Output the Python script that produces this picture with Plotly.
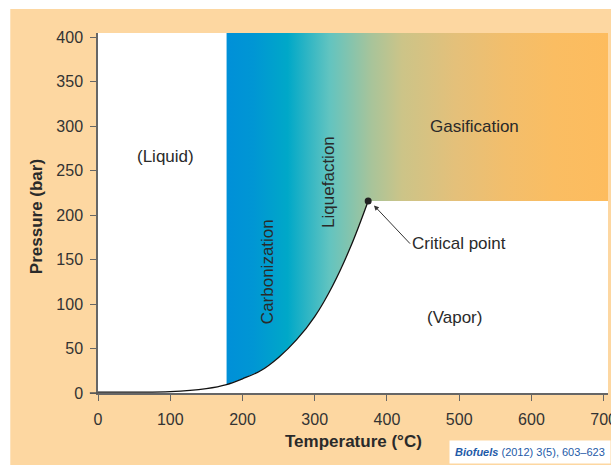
import plotly.graph_objects as go

# Vapor-pressure curve of water
temp_curve = [0, 50, 100, 150, 178, 200, 225, 250, 275, 300, 325, 350, 374]
pres_curve = [1, 1, 1.5, 5, 9.5, 16, 25, 40, 60, 86, 121, 165, 216]

crit_T, crit_P = 374, 216
carb_start = 178
x_max, y_max = 706, 405

x_ticks = [0, 100, 200, 300, 400, 500, 600, 700]
y_ticks = [0, 50, 100, 150, 200, 250, 300, 350, 400]

grad_colors = [
    [0.0, "#0090D8"], [0.07, "#0096D4"], [0.16, "#00A8C8"], [0.27, "#62C4C0"],
    [0.38, "#A8C49A"], [0.46, "#CCC488"], [0.60, "#E4C07A"], [0.73, "#F2BE6C"],
    [0.86, "#FABD62"], [1.0, "#FDBC5E"],
]

poly_x = [t for t in temp_curve if t >= carb_start] + [x_max, x_max, carb_start, carb_start]
poly_y = [p for t, p in zip(temp_curve, pres_curve) if t >= carb_start] + [crit_P, y_max, y_max, pres_curve[temp_curve.index(carb_start)]]

fig = go.Figure()
fig.add_trace(go.Scatter(
    x=poly_x, y=poly_y, mode="lines", fill="toself", line=dict(width=0),
    fillgradient=dict(type="horizontal", colorscale=grad_colors, start=carb_start, stop=x_max),
    hoverinfo="skip", showlegend=False,
))
fig.add_trace(go.Scatter(
    x=temp_curve, y=pres_curve, mode="lines", line=dict(color="#111", width=1.3, shape="spline"),
    showlegend=False, hoverinfo="skip",
))
fig.add_trace(go.Scatter(
    x=[crit_T], y=[crit_P], mode="markers", marker=dict(color="#222", size=7),
    showlegend=False, hoverinfo="skip",
))

lab_font = dict(family="Liberation Sans, Arial", size=17, color="#2a2a2a")
anns = [
    dict(x=93, y=266, text="(Liquid)"),
    dict(x=521, y=300, text="Gasification"),
    dict(x=234, y=136, text="Carbonization", textangle=-90),
    dict(x=319, y=238, text="Liquefaction", textangle=-90),
    dict(x=493, y=85, text="(Vapor)"),
]
for a in anns:
    fig.add_annotation(xref="x", yref="y", showarrow=False, font=lab_font, **a)

fig.add_annotation(
    x=382, y=211, xref="x", yref="y", text="Critical point", showarrow=True,
    ax=432, ay=168, axref="x", ayref="y", xanchor="left", yanchor="middle",
    arrowhead=2, arrowsize=1, arrowwidth=1, arrowcolor="#333", font=lab_font,
)

fig.add_annotation(
    x=0.5, y=-0.103, xref="paper", yref="paper", text="<b>Temperature (°C)</b>",
    showarrow=False, yanchor="top", font=dict(family="Liberation Sans, Arial", size=17, color="#2a2a2a"),
)
fig.add_annotation(
    x=-0.143, y=0.49, xref="paper", yref="paper", text="<b>Pressure (bar)</b>", textangle=-90,
    showarrow=False, font=dict(family="Liberation Sans, Arial", size=17, color="#2a2a2a"),
)
fig.add_annotation(
    x=1.006, y=-0.164, xref="paper", yref="paper", xanchor="right", yanchor="middle",
    text="<b><i>Biofuels</i></b> (2012) 3(5), 603–623", showarrow=False, bgcolor="white",
    borderpad=5, font=dict(family="Liberation Sans Narrow, Liberation Sans", size=11, color="#1E5AA8"),
)

# white page margins around the orange panel
fig.add_shape(type="rect", xref="paper", yref="paper", x0=-0.3, x1=1.1, y0=1.067, y1=1.2,
              fillcolor="white", line=dict(width=0), layer="below")
fig.add_shape(type="rect", xref="paper", yref="paper", x0=-0.3, x1=-0.172, y0=-0.3, y1=1.2,
              fillcolor="white", line=dict(width=0), layer="below")
fig.add_shape(type="line", xref="paper", yref="paper", x0=-0.016, x1=0, y0=0, y1=0,
              line=dict(color="#555", width=1.5))

axis_common = dict(showgrid=False, zeroline=False, showline=True, linecolor="#666", linewidth=1.5,
                   ticks="outside", ticklen=6, tickcolor="#666", tickwidth=1, automargin=False,
                   tickfont=dict(family="Liberation Sans, Arial", size=16, color="#333"))
fig.update_xaxes(range=[0, x_max], tickvals=x_ticks, ticktext=[str(v) for v in x_ticks],
                 ticklabelstandoff=5, ticklabeloverflow="allow", **axis_common)
fig.update_yaxes(range=[0, y_max], tickvals=y_ticks, ticktext=[str(v) for v in y_ticks],
                 ticklabelstandoff=4, **axis_common)

fig.update_layout(
    width=611, height=465, margin=dict(l=98, r=3, t=33, b=72),
    paper_bgcolor="#FDD7A1", plot_bgcolor="white",
)
fig.write_html("out.html", config={"displayModeBar": False},
               post_script="document.body.style.margin='0';")
